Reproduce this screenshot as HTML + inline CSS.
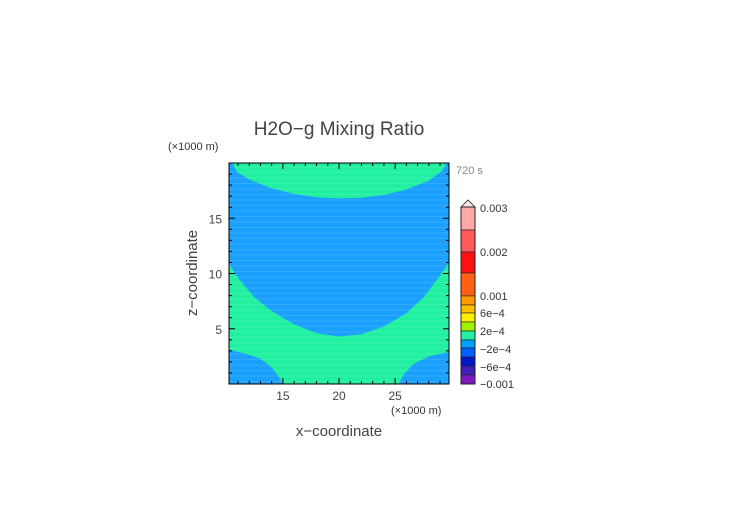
<!DOCTYPE html>
<html><head><meta charset="utf-8"><style>
html,body{margin:0;padding:0;background:#fff;}
svg{display:block;font-family:"Liberation Sans","DejaVu Sans",sans-serif;}
</style></head><body>
<svg id="chart" width="752" height="532" viewBox="0 0 752 532">
<text x="339" y="135" font-size="19" fill="#444" text-anchor="middle">H2O−g Mixing Ratio</text>
<text x="168" y="150" font-size="11" fill="#333">(×1000 m)</text>
<text x="456" y="174" font-size="11" fill="#888">720 s</text>
<text x="197" y="273" font-size="15" fill="#444" text-anchor="middle" transform="rotate(-90 197 273)">z−coordinate</text>
<text x="339" y="436" font-size="15" fill="#444" text-anchor="middle">x−coordinate</text>
<text x="391" y="414" font-size="11" fill="#333">(×1000 m)</text>
<g id="plot"></g>
<g id="axes"></g>
<g id="cbar"></g>
</svg>
<script>
const xTicks=[15,20,25];
const yTicks=[5,10,15];
const xDomain=[10.2,29.8];
const yDomain=[0,20];
// region boundaries in data coords [x,z]
const topCap=[[10.5,20],[10.9,19.2],[12,18.5],[14,17.7],[16,17.2],[18,16.9],[20,16.8],[22,16.85],[24,17.1],[26,17.6],[28,18.4],[29.2,19.3],[29.6,20]];
const midBand=[[10.2,10.9],[11,9.6],[12.5,7.8],[14,6.6],[16,5.4],[18,4.6],[20,4.3],[22,4.5],[24,5.2],[26,6.4],[27.5,7.8],[29,9.8],[29.8,11.0]];
const lowLeft=[[10.2,3.1],[11.5,2.8],[13,2.3],[14,1.5],[14.6,0.7],[15,0]];
const lowRight=[[25.3,0],[25.8,0.9],[26.6,1.8],[28,2.5],[29.8,2.9]];
const cbarLabels=["0.003","0.002","0.001","6e−4","2e−4","−2e−4","−6e−4","−0.001"];
const cbarLabelY=[208,252,296,313,331,349,367,384];
const cbarColors=["#ffa8a8","#ff5a5a","#ff1010","#ff6014","#ff9a00","#ffc000","#f8f000","#a0f000","#20f0a0","#00a0ff","#0060ff","#0018c8","#4020b8","#8018c0"];
const cbarEdges=[207,230,252,273,296,305,313,322,331,340,348,357,366,375,384];

const X0=229,X1=449,Y0=384,Y1=163;
const sx=v=>X0+(v-xDomain[0])/(xDomain[1]-xDomain[0])*(X1-X0);
const sy=v=>Y0-(v-yDomain[0])/(yDomain[1]-yDomain[0])*(Y0-Y1);
const NS="http://www.w3.org/2000/svg";
function mk(t,a,p){const e=document.createElementNS(NS,t);for(const k in a)e.setAttribute(k,a[k]);p.appendChild(e);return e;}
const plot=document.getElementById('plot'),axes=document.getElementById('axes'),cb=document.getElementById('cbar');
const G="#20f0a0",B="#1aa0ff";
let r=mk('rect',{x:X0,y:Y1,width:X1-X0,height:Y0-Y1,fill:B},plot);

const pts=a=>a.map(p=>sx(p[0]).toFixed(1)+','+sy(p[1]).toFixed(1)).join(' L');
let p1=mk('path',{d:'M'+pts(topCap)+' Z',fill:G},plot);

let p2=mk('path',{d:'M'+pts(midBand)+` L${X1},${Y0} L${X0},${Y0} Z`,fill:G},plot);

let p3=mk('path',{d:'M'+pts(lowLeft)+` L${X0},${Y0} Z`,fill:B},plot);

let p4=mk('path',{d:'M'+pts(lowRight)+` L${X1},${Y0} Z`,fill:B},plot);

// faint grid texture
for(let y=Y1+4;y<Y0;y+=5.5){let l=mk('line',{x1:X0,x2:X1,y1:y,y2:y,stroke:'#fff','stroke-opacity':0.12,'stroke-width':1},plot);}
let fr=mk('rect',{x:X0,y:Y1,width:X1-X0,height:Y0-Y1,fill:'none',stroke:'#000','stroke-width':1},axes);

for(let v=11;v<=29;v++){const x=sx(v),L=v%5==0?6:3;
 let t=mk('line',{x1:x,x2:x,y1:Y0,y2:Y0-L,stroke:'#000'},axes);
 let t2=mk('line',{x1:x,x2:x,y1:Y1,y2:Y1+L,stroke:'#000'},axes);}
for(let v=1;v<=19;v++){const y=sy(v),L=v%5==0?6:3;
 let t=mk('line',{x1:X0,x2:X0+L,y1:y,y2:y,stroke:'#000'},axes);
 let t2=mk('line',{x1:X1,x2:X1-L,y1:y,y2:y,stroke:'#000'},axes);}
xTicks.forEach(v=>{let t=mk('text',{x:sx(v),y:Y0+16,'font-size':12,fill:'#444','text-anchor':'middle'},axes);t.textContent=v;});
yTicks.forEach(v=>{let t=mk('text',{x:X0-7,y:sy(v)+5,'font-size':12,fill:'#444','text-anchor':'end'},axes);t.textContent=v;});
// colorbar
const CX=461,CW=14;
cbarColors.forEach((c,i)=>{let e=mk('rect',{x:CX,y:cbarEdges[i],width:CW,height:cbarEdges[i+1]-cbarEdges[i],fill:c,stroke:'#222','stroke-width':0.6},cb);});
let tri=mk('path',{d:`M${CX},207 L${CX+CW/2},200 L${CX+CW},207 Z`,fill:'#fde8e8',stroke:'#222','stroke-width':0.8},cb);

let cf=mk('rect',{x:CX,y:207,width:CW,height:177,fill:'none',stroke:'#222','stroke-width':1},cb);

cbarLabels.forEach((s,i)=>{let t=mk('text',{x:480,y:cbarLabelY[i]+4,'font-size':11,fill:'#333'},cb);t.textContent=s;});
</script>
</body></html>
